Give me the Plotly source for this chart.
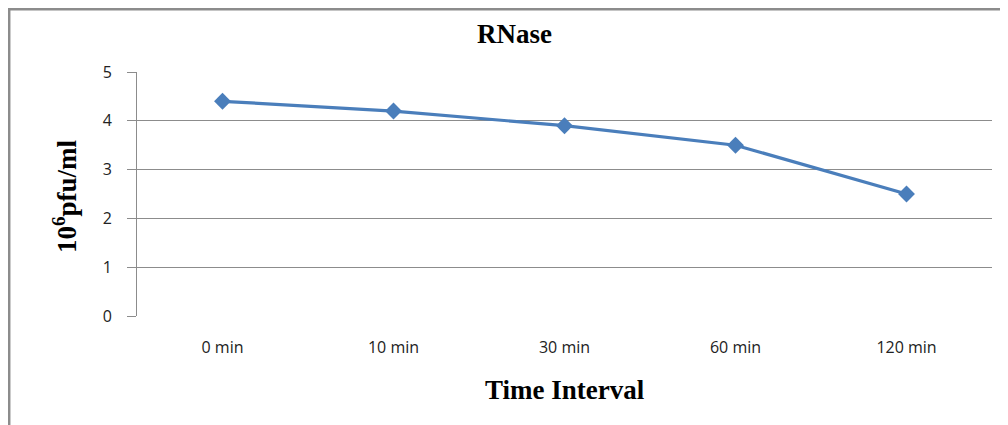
import plotly.graph_objects as go

categories = ["0 min", "10 min", "30 min", "60 min", "120 min"]
values = [4.4, 4.2, 3.9, 3.5, 2.5]
y_ticks = [0, 1, 2, 3, 4, 5]

# page body adds an 8px offset; work in reference pixels, shifted by OFF
OFF = 8
W, H = 1008 - OFF, 425 - OFF
L = 137 - OFF
T = 72 - OFF
R = W - (992 - OFF)
B = H - (316 - OFF)
pw = W - L - R
ph = H - T - B

def px_x(p):
    return (p - OFF - L) / pw

def px_y(p):
    return (H - B - (p - OFF)) / ph

fig = go.Figure()
fig.add_trace(go.Scatter(
    x=categories, y=values, mode="lines+markers",
    line=dict(color="#4A7EBB", width=3.2),
    marker=dict(symbol="diamond", size=13, color="#4A7EBB"),
    showlegend=False, hoverinfo="x+y",
))

fig.update_layout(
    width=W, height=H,
    margin=dict(l=L, r=R, t=T, b=B),
    paper_bgcolor="white", plot_bgcolor="white",
    xaxis=dict(
        type="category", range=[-0.5, 4.5],
        showgrid=False, showline=False, zeroline=False, ticks="",
        tickfont=dict(family="Open Sans", size=16, color="#222"),
        ticklabelstandoff=20,
    ),
    yaxis=dict(
        range=[0, 5], tickvals=y_ticks,
        showgrid=True, gridcolor="#8c8c8c", gridwidth=1,
        showline=True, linecolor="#8c8c8c", linewidth=1,
        zeroline=False,
        ticks="outside", ticklen=9, tickcolor="#8c8c8c",
        tickfont=dict(family="Open Sans", size=16, color="#222"),
        ticklabelstandoff=12,
    ),
    annotations=[
        dict(text="<b>RNase</b>", xref="paper", yref="paper",
             x=px_x(514), y=px_y(34), xanchor="center", yanchor="middle",
             showarrow=False,
             font=dict(family="Liberation Serif", size=27, color="black")),
        dict(text="<b>Time Interval</b>", xref="paper", yref="paper",
             x=px_x(565), y=px_y(390), xanchor="center", yanchor="middle",
             showarrow=False,
             font=dict(family="Liberation Serif", size=27, color="black")),
        dict(text="<b>10<sup>6</sup>pfu/ml</b>", xref="paper", yref="paper",
             x=px_x(65), y=px_y(197), xanchor="center", yanchor="middle",
             showarrow=False, textangle=-90,
             font=dict(family="Liberation Serif", size=27, color="black")),
    ],
    shapes=[
        dict(type="line", xref="paper", yref="paper",
             x0=px_x(8.5), x1=px_x(1015), y0=px_y(9.2), y1=px_y(9.2),
             line=dict(color="#8c8c8c", width=2.5)),
        dict(type="line", xref="paper", yref="paper",
             x0=px_x(9.2), x1=px_x(9.2), y0=px_y(8), y1=px_y(432),
             line=dict(color="#8c8c8c", width=2.5)),
    ],
)

fig.write_html("out.html")
